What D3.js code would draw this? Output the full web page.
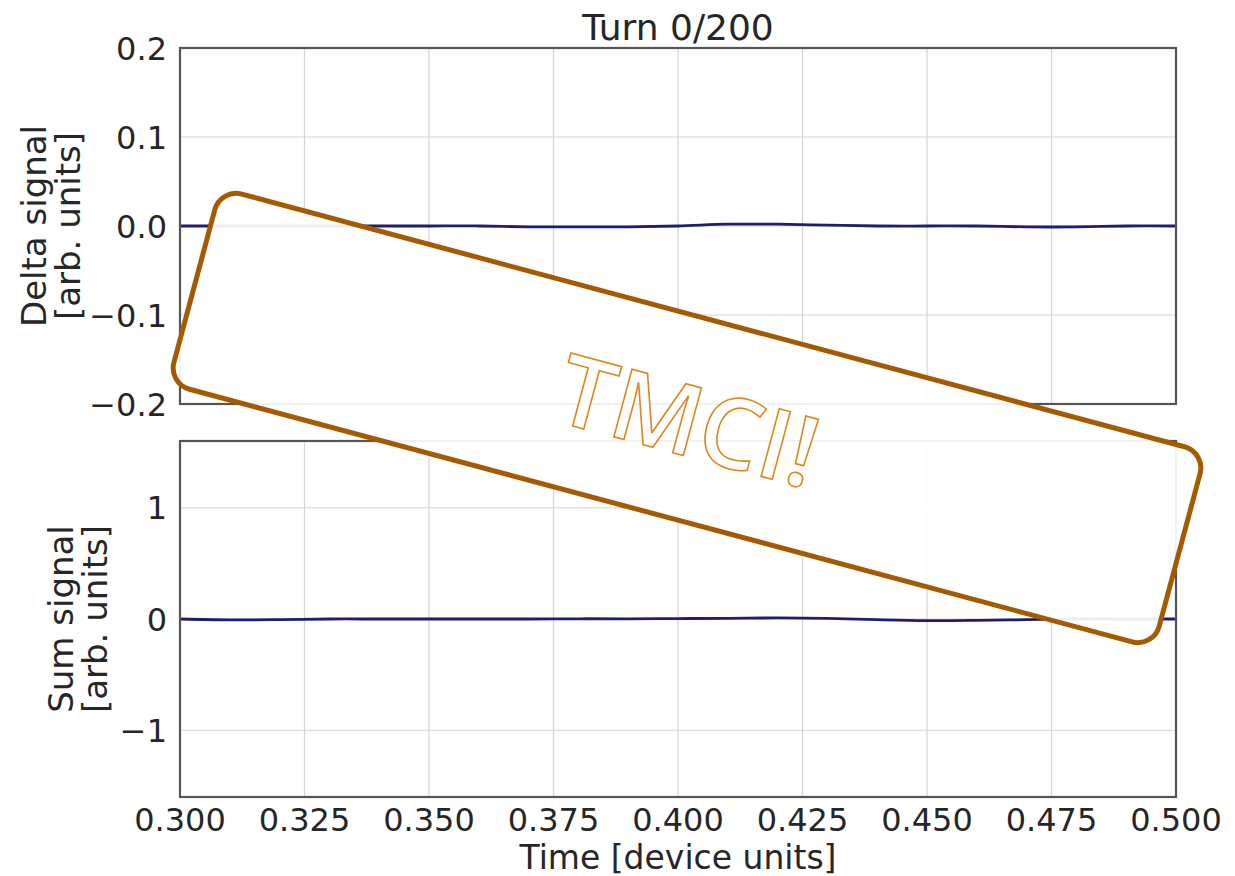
<!DOCTYPE html>
<html>
<head>
<meta charset="utf-8">
<script src="https://cdn.jsdelivr.net/npm/d3@7"></script>
<style>
  body { margin: 0; background: #fff; }
  text { font-family: "DejaVu Sans", sans-serif; fill: #262626; }
</style>
</head>
<body>
<script>
const width = 1235, height = 876;

// signal traces (time in device units)
const times = [0.300, 0.310, 0.320, 0.330, 0.340, 0.350, 0.360, 0.370, 0.380, 0.390,
               0.400, 0.410, 0.420, 0.430, 0.440, 0.450, 0.460, 0.470, 0.480, 0.490, 0.500];
const deltaSignal = [0.000, 0.000, 0.000, 0.000, 0.000, 0.000, 0.000, -0.001, -0.001, -0.001,
                     0.000, 0.002, 0.002, 0.001, 0.000, 0.000, 0.000, -0.001, -0.001, 0.000, 0.000];
const sumSignal = [0.000, -0.008, -0.006, 0.000, 0.000, 0.000, 0.000, 0.000, 0.002, 0.002,
                   0.004, 0.006, 0.010, 0.006, -0.006, -0.014, -0.012, -0.006, 0.000, 0.000, 0.000];

const xTicks = [0.300, 0.325, 0.350, 0.375, 0.400, 0.425, 0.450, 0.475, 0.500];
const deltaTicks = [-0.2, -0.1, 0.0, 0.1, 0.2];
const sumTicks = [-1, 0, 1];

const svg = d3.select("body")
  .append("svg")
  .attr("width", width)
  .attr("height", height);

const left = 180, right = 1176;

let x = d3.scaleLinear().domain([0.3, 0.5]).range([left, right]);

const panels = [
  { top: 48, bottom: 404, domain: [-0.2, 0.2], ticks: deltaTicks, fmt: d3.format(".1f"),
    values: deltaSignal, label: ["Delta signal", "[arb. units]"], labelX: [34, 68] },
  { top: 441, bottom: 797, domain: [-1.6, 1.6], ticks: sumTicks, fmt: d3.format("d"),
    values: sumSignal, label: ["Sum signal", "[arb. units]"], labelX: [61, 95] }
];

const minus = s => s.replace("-", "\u2212");

panels.forEach((p, i) => {
  let y = d3.scaleLinear().domain(p.domain).range([p.bottom, p.top]);
  let g = svg.append("g");

  // grid
  g.selectAll(".vgrid").data(xTicks).enter().append("line")
    .attr("x1", d => x(d)).attr("x2", d => x(d))
    .attr("y1", p.top).attr("y2", p.bottom)
    .attr("stroke", "#d4d4d4").attr("stroke-width", 1.2);
  g.selectAll(".hgrid").data(p.ticks).enter().append("line")
    .attr("x1", left).attr("x2", right)
    .attr("y1", d => y(d)).attr("y2", d => y(d))
    .attr("stroke", "#d4d4d4").attr("stroke-width", 1.2);

  // y tick labels
  g.selectAll(".ytick").data(p.ticks).enter().append("text")
    .attr("x", left - 13)
    .attr("y", d => y(d))
    .attr("dy", "0.36em")
    .attr("text-anchor", "end")
    .style("font-size", "32px")
    .text(d => minus(p.fmt(d)));

  // line
  let line = d3.line()
    .x((d, j) => x(times[j]))
    .y(d => y(d))
    .curve(d3.curveCatmullRom);
  g.append("path")
    .datum(p.values)
    .attr("d", line)
    .attr("fill", "none")
    .attr("stroke", "#1f1d6e")
    .attr("stroke-width", 2.8);

  // frame
  g.append("rect")
    .attr("x", left).attr("y", p.top)
    .attr("width", right - left).attr("height", p.bottom - p.top)
    .attr("fill", "none").attr("stroke", "#555").attr("stroke-width", 2.2);

  // y label
  let cy = (p.top + p.bottom) / 2;
  p.label.forEach((t, k) => {
    svg.append("text")
      .attr("transform", `translate(${p.labelX[k]},${cy}) rotate(-90)`)
      .attr("text-anchor", "middle")
      .attr("dy", "0.35em")
      .style("font-size", "34px")
      .text(t);
  });

  if (i === 1) {
    g.selectAll(".xtick").data(xTicks).enter().append("text")
      .attr("x", d => x(d))
      .attr("y", p.bottom + 34)
      .attr("text-anchor", "middle")
      .style("font-size", "32px")
      .text(d => d3.format(".3f")(d));
  }
});

svg.append("text")
  .attr("x", (left + right) / 2).attr("y", 40)
  .attr("text-anchor", "middle")
  .style("font-size", "36px")
  .text("Turn 0/200");

svg.append("text")
  .attr("x", (left + right) / 2).attr("y", 869)
  .attr("text-anchor", "middle")
  .style("font-size", "33px")
  .text("Time [device units]");

// stamp overlay
let stamp = svg.append("g")
  .attr("transform", "translate(687,418) rotate(15)");
stamp.append("rect")
  .attr("x", -510).attr("y", -101)
  .attr("width", 1020).attr("height", 202)
  .attr("rx", 22).attr("ry", 22)
  .attr("fill", "#fff").attr("fill-opacity", 0.92)
  .attr("stroke", "#a45a00").attr("stroke-width", 5);
stamp.append("text")
  .attr("x", 2).attr("y", 2)
  .attr("dy", "0.36em")
  .attr("text-anchor", "middle")
  .style("font-family", "'Open Sans', sans-serif")
  .style("font-weight", 600)
  .style("font-size", "98px")
  .style("fill", "#fff")
  .style("stroke", "#e0861c")
  .style("stroke-width", 1.6)
  .text("TMCI!");
</script>
</body>
</html>
